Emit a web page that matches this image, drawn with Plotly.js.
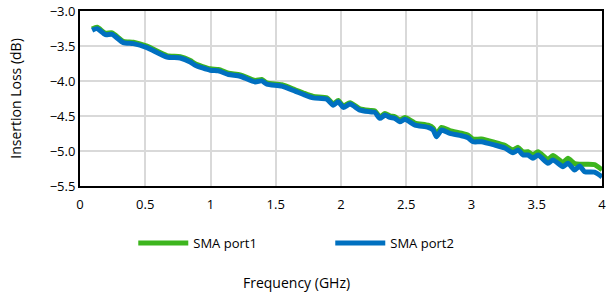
<!DOCTYPE html>
<html>
<head>
<meta charset="utf-8">
<script src="https://cdn.plot.ly/plotly-3.0.1.min.js"></script>
<style>html,body{margin:0;padding:0;background:#fff;}#chart{width:606px;height:297px;}</style>
</head>
<body>
<div id="chart"></div>
<script>
// Frequency points (GHz)
var freq = [0.093,0.131,0.194,0.246,0.332,0.409,0.513,0.666,0.768,0.845,0.883,0.998,1.061,1.138,1.227,1.342,1.393,1.432,1.546,1.648,1.712,1.788,1.891,1.941,1.979,2.018,2.069,2.145,2.222,2.260,2.298,2.337,2.375,2.413,2.451,2.490,2.567,2.668,2.706,2.732,2.770,2.834,2.923,2.974,3.012,3.076,3.178,3.255,3.318,3.357,3.395,3.433,3.471,3.510,3.586,3.624,3.701,3.739,3.790,3.828,3.867,3.943,4.000];
// SMA port2 insertion loss (dB)
var port2 = [-3.276,-3.252,-3.338,-3.333,-3.452,-3.466,-3.523,-3.657,-3.671,-3.728,-3.775,-3.846,-3.856,-3.907,-3.932,-4.013,-3.999,-4.046,-4.074,-4.145,-4.192,-4.241,-4.259,-4.345,-4.298,-4.377,-4.330,-4.416,-4.440,-4.449,-4.534,-4.487,-4.520,-4.534,-4.583,-4.548,-4.630,-4.662,-4.701,-4.796,-4.701,-4.748,-4.782,-4.811,-4.868,-4.868,-4.915,-4.957,-5.024,-4.986,-5.057,-5.057,-5.104,-5.057,-5.175,-5.128,-5.224,-5.175,-5.271,-5.214,-5.295,-5.303,-5.370];
// SMA port1 insertion loss (dB)
var port1 = [-3.258,-3.232,-3.318,-3.313,-3.432,-3.446,-3.503,-3.637,-3.651,-3.708,-3.755,-3.826,-3.836,-3.887,-3.912,-3.993,-3.979,-4.026,-4.054,-4.125,-4.172,-4.221,-4.239,-4.325,-4.278,-4.357,-4.310,-4.396,-4.420,-4.429,-4.512,-4.465,-4.498,-4.512,-4.558,-4.523,-4.600,-4.632,-4.670,-4.760,-4.663,-4.710,-4.745,-4.775,-4.830,-4.830,-4.877,-4.920,-4.984,-4.948,-5.015,-5.010,-5.058,-5.010,-5.120,-5.065,-5.160,-5.105,-5.180,-5.190,-5.190,-5.195,-5.270];
var xTitle = 'Frequency (GHz)';
var yTitle = 'Insertion Loss (dB)';

var data = [
  {x: freq, y: port1, name: 'SMA port1', type: 'scatter', mode: 'lines',
   line: {color: '#3DB51E', width: 5, shape: 'spline', smoothing: 0.6}},
  {x: freq, y: port2, name: 'SMA port2', type: 'scatter', mode: 'lines',
   line: {color: '#0070C0', width: 5, shape: 'spline', smoothing: 0.6}}
];

var fnt = {family: '"Open Sans", "Noto Sans", sans-serif', size: 13, color: '#000'};

var layout = {
  width: 606, height: 297,
  margin: {l: 80, r: 4, t: 11, b: 111},
  paper_bgcolor: '#fff', plot_bgcolor: '#fff',
  font: fnt,
  showlegend: true,
  legend: {orientation: 'h', xref: 'container', yref: 'container',
           x: 0.545, xanchor: 'center', y: 0.182, yanchor: 'middle',
           itemwidth: 50, entrywidth: 132, font: fnt},
  xaxis: {
    range: [0, 4], dtick: 0.5, tick0: 0,
    showgrid: true, gridcolor: '#d9d9d9', gridwidth: 2,
    showline: true, linecolor: '#000', linewidth: 2, mirror: true,
    zeroline: false, ticks: 'outside', ticklen: 5, tickcolor: 'rgba(0,0,0,0)',
    tickfont: fnt, ticklabeloverflow: 'allow',
    title: {text: ''}
  },
  yaxis: {
    range: [-5.5, -3.0], dtick: 0.5, tick0: -3.0, tickformat: '.1f',
    showgrid: true, gridcolor: '#d9d9d9', gridwidth: 2,
    showline: true, linecolor: '#000', linewidth: 2, mirror: true,
    zeroline: false, ticks: '', tickfont: fnt,
    title: {text: yTitle, font: {family: fnt.family, size: 14, color: '#000'}, standoff: 25}
  },
  annotations: [{
    text: xTitle, showarrow: false,
    xref: 'paper', yref: 'paper', x: 0.415, y: -0.549,
    xanchor: 'center', yanchor: 'middle',
    font: {family: fnt.family, size: 14, color: '#000'}
  }]
};

Plotly.newPlot('chart', data, layout, {staticPlot: true, displayModeBar: false});
</script>
</body>
</html>
